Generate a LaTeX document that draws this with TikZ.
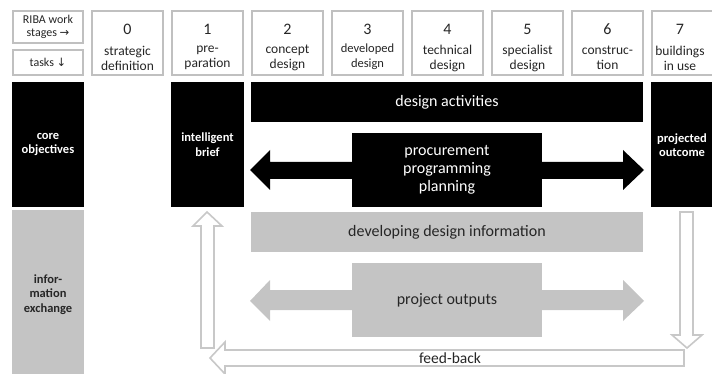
\documentclass[tikz,border=0pt]{standalone}
\usepackage{fontspec}
\setmainfont{Carlito}
\newfontfamily\arrowfont{DejaVu Sans}
\definecolor{hgray}{HTML}{C0C0C0}
\definecolor{fgray}{HTML}{C4C4C4}
\definecolor{agray}{HTML}{C8C8C8}
\definecolor{tdark}{HTML}{262626}
\begin{document}
\begin{tikzpicture}[x=1pt,y=-1pt,
  hdr/.style={draw=hgray, line width=2pt, fill=white, inner sep=0pt, minimum width=71pt, minimum height=64pt},
  small/.style={draw=hgray, line width=2pt, fill=white, inner sep=0pt, minimum width=70pt, text=tdark, align=center, font=\fontsize{12}{13}\selectfont},
  num/.style={text=tdark, inner sep=0pt, font=\fontsize{16}{16}\selectfont},
  lab/.style={text=tdark, inner sep=0pt, align=center, font=\fontsize{13.5}{15}\selectfont},
  blk/.style={fill=black, inner sep=0pt, text=white, align=center},
  gry/.style={fill=fgray, inner sep=0pt, text=tdark, align=center},
  hollow/.style={draw=agray, line width=1.6pt, fill=white, line join=miter},
  boldlab/.style={font=\bfseries\fontsize{12.5}{14.5}\selectfont}
]
\useasboundingbox (0,0) rectangle (712,374);
\begin{scope}
\clip (0,0) rectangle (712,374);
% header row
\node[small, minimum height=32pt] (riba) at (48,27) {RIBA work\\stages {\arrowfont\fontsize{11.5}{11.5}\selectfont →}};
\node[small, minimum height=25pt] (tasks) at (48,62.5) {tasks {\arrowfont\fontsize{11.5}{11.5}\selectfont ↓}};
\foreach \i in {0,...,7}{
  \node[hdr] (h\i) at (127.5+80*\i,43) {};
}
\node[num] (n0) at (127.5,29) {0};
\node[num] (n1) at (207.5,29) {1};
\node[num] (n2) at (287.5,29) {2};
\node[num] (n3) at (367.5,29) {3};
\node[num] (n4) at (447.5,29) {4};
\node[num] (n5) at (527.5,29) {5};
\node[num] (n6) at (607.5,29) {6};
\node[num] (n7) at (680,29) {7};
\node[lab] (l0) at (127.5,58) {strategic\\definition};
\node[lab] (l1) at (207.5,58) {pre-\\paration};
\node[lab] (l2) at (287.5,58) {concept\\design};
\node[lab, font=\fontsize{12.5}{14.5}\selectfont] (l3) at (367.5,56.5) {developed\\design};
\node[lab] (l4) at (447.5,58) {technical\\design};
\node[lab] (l5) at (527.5,58) {specialist\\design};
\node[lab] (l6) at (607.5,58) {construc-\\tion};
\node[lab] (l7) at (680,58) {buildings\\in use};
% black row
\node[blk, boldlab, minimum width=72pt, minimum height=125pt] (core) at (48,144.5) {core\\objectives};
\node[blk, boldlab, minimum width=73pt, minimum height=125pt] (brief) at (207.5,144.5) {intelligent\\brief};
\node[blk, minimum width=392pt, minimum height=40pt, font=\fontsize{16}{16}\selectfont] (design) at (447,102) {design activities};
\fill[black] (250,170) -- (270,150) -- (270,162) -- (623,162) -- (623,150) -- (644,170) -- (623,190) -- (623,179) -- (270,179) -- (270,190) -- cycle;
\node[blk, minimum width=190pt, minimum height=74pt, font=\fontsize{16}{18}\selectfont] (proc) at (447,170) {procurement\\programming\\planning};
\node[blk, minimum width=73pt, minimum height=125pt] (outc) at (687.5,144.5) {};
\node[text=white, boldlab, align=center, inner sep=0pt] (outct) at (682,145) {projected\\outcome};
% gray row
\node[gry, minimum width=72pt, minimum height=170pt] (info) at (48,295) {};
\node[text=tdark, boldlab, align=center, inner sep=0pt] (infot) at (48,294.5) {infor-\\mation\\exchange};
\node[gry, minimum width=392pt, minimum height=40pt, font=\fontsize{16}{16}\selectfont] (ddi) at (447,232) {developing design information};
\fill[fgray] (250,301) -- (270,280) -- (270,290) -- (623,290) -- (623,280) -- (644,301) -- (623,321) -- (623,310) -- (270,310) -- (270,321) -- cycle;
\node[gry, minimum width=190pt, minimum height=74pt, font=\fontsize{16}{16}\selectfont] (outp) at (447,300) {project outputs};
% hollow arrows
\draw[hollow] (207,212) -- (222,226) -- (214,226) -- (214,348) -- (201,348) -- (201,226) -- (193,226) -- cycle;
\draw[hollow] (210,358) -- (225,342) -- (225,350) -- (684,350) -- (684,366) -- (225,366) -- (225,374) -- cycle;
\draw[hollow] (680,212) -- (693,212) -- (693,335) -- (702,335) -- (687,348) -- (672,335) -- (680,335) -- cycle;
\node[text=tdark, inner sep=0pt, font=\fontsize{15.5}{16}\selectfont] (fb) at (450,358) {feed-back};
\end{scope}
\end{tikzpicture}
\end{document}
